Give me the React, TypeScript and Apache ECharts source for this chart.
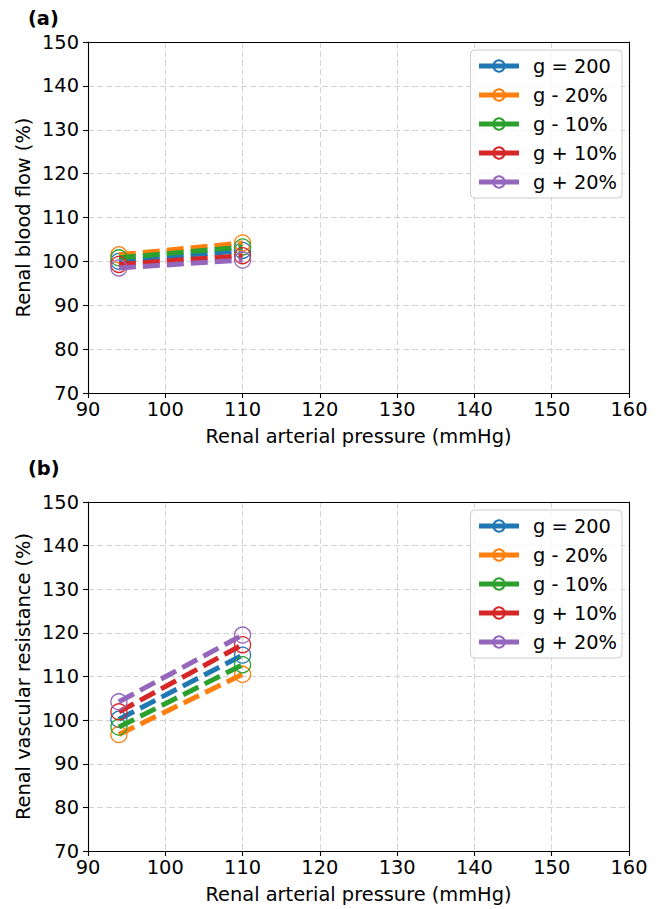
import React, { useEffect, useRef } from "react";
import * as echarts from "echarts";

const pressure = [94, 110];
const seriesNames = ["g = 200", "g - 20%", "g - 10%", "g + 10%", "g + 20%"];
const colors = ["#1f77b4", "#ff7f0e", "#2ca02c", "#d62728", "#9467bd"];

// Renal blood flow (%)
const rbfG200 = [100.0, 102.5];
const rbfM20 = [101.5, 104.2];
const rbfM10 = [100.8, 103.3];
const rbfP10 = [99.3, 101.3];
const rbfP20 = [98.5, 100.3];

// Renal vascular resistance (%)
const rvrG200 = [100.2, 114.9];
const rvrM20 = [96.7, 110.5];
const rvrM10 = [98.4, 112.7];
const rvrP10 = [101.9, 117.3];
const rvrP20 = [104.2, 119.5];

const xTicks = [90, 100, 110, 120, 130, 140, 150, 160];
const yTicks = [70, 80, 90, 100, 110, 120, 130, 140, 150];

const FONT = "DejaVu Sans";
const FS = 19.4;

export default function App() {
  const ref = useRef<HTMLDivElement>(null);
  useEffect(() => {
    document.body.style.margin = "0";
    const chart = echarts.init(ref.current!, null, { renderer: "svg" });
    const rbf = [rbfG200, rbfM20, rbfM10, rbfP10, rbfP20];
    const rvr = [rvrG200, rvrM20, rvrM10, rvrP10, rvrP20];

    const mkSeries = (sets: number[][], idx: number) =>
      sets.map((vals, i) => ({
        type: "line",
        name: seriesNames[i],
        xAxisIndex: idx * 2,
        yAxisIndex: idx * 2,
        data: pressure.map((p, k) => [p, vals[k]]),
        symbol: "circle",
        symbolSize: 16,
        showSymbol: true,
        itemStyle: { color: "rgba(0,0,0,0)", borderColor: colors[i], borderWidth: 1.3 },
        lineStyle: { color: colors[i], width: 5, type: [17, 7] },
        emphasis: { disabled: true },
        z: 2 + i,
      }));

    const splitLine = { show: true, lineStyle: { color: "#d3d3d3", width: 1, type: [6, 3] } };
    const axisLine = { show: true, lineStyle: { color: "#000", width: 1.1 } };
    const axisTick = { show: true, inside: false, length: 5, lineStyle: { color: "#000", width: 1.1 } };

    const xAxisDef = (gi: number) => ({
      type: "value",
      gridIndex: gi,
      min: xTicks[0],
      max: xTicks[xTicks.length - 1],
      interval: 10,
      name: "Renal arterial pressure (mmHg)",
      nameLocation: "middle",
      nameGap: 34,
      nameMoveOverlap: false,
      nameTextStyle: { fontFamily: FONT, fontSize: FS, color: "#000" },
      axisLine,
      axisTick,
      axisLabel: { fontFamily: FONT, fontSize: FS, color: "#000", margin: 7 },
      splitLine,
      z: 1,
    });
    const xTopDef = (gi: number) => ({
      type: "value",
      gridIndex: gi,
      position: "top",
      min: xTicks[0],
      max: xTicks[xTicks.length - 1],
      interval: 10,
      axisLine,
      axisTick: { show: false },
      axisLabel: { show: false },
      splitLine: { show: false },
      z: 10,
    });

    const yAxisDef = (gi: number, name: string) => ({
      type: "value",
      gridIndex: gi,
      min: yTicks[0],
      max: yTicks[yTicks.length - 1],
      interval: 10,
      name,
      nameLocation: "middle",
      nameGap: 55,
      nameMoveOverlap: false,
      nameTextStyle: { fontFamily: FONT, fontSize: FS, color: "#000" },
      axisLine,
      axisTick,
      axisLabel: { fontFamily: FONT, fontSize: FS, color: "#000", margin: 9 },
      splitLine,
      z: 1,
    });
    const yRightDef = (gi: number) => ({
      type: "value",
      gridIndex: gi,
      position: "right",
      min: yTicks[0],
      max: yTicks[yTicks.length - 1],
      interval: 10,
      axisLine,
      axisTick: { show: false },
      axisLabel: { show: false },
      splitLine: { show: false },
      z: 10,
    });

    const legendDef = (top: number) => ({
      data: seriesNames,
      right: 43,
      top,
      orient: "vertical",
      itemWidth: 40,
      itemHeight: 14,
      itemGap: 9,
      padding: [6, 5, 6, 6],
      borderColor: "#cccccc",
      borderWidth: 1,
      borderRadius: 4,
      backgroundColor: "rgba(255,255,255,0.8)",
      selectedMode: false,
      lineStyle: { width: 5, type: "solid" },
      textStyle: { fontFamily: FONT, fontSize: FS, lineHeight: 20, color: "#000", padding: [0, 0, 0, 9] },
    });

    chart.setOption({
      animation: false,
      backgroundColor: "#fff",
      title: [
        { text: "(a)", left: 23, top: 4, textStyle: { fontFamily: FONT, fontSize: FS, fontWeight: "bold", color: "#000" } },
        { text: "(b)", left: 23, top: 454, textStyle: { fontFamily: FONT, fontSize: FS, fontWeight: "bold", color: "#000" } },
      ],
      grid: [
        { left: 88, top: 42, width: 541, height: 351 },
        { left: 88, top: 502, width: 541, height: 349 },
      ],
      xAxis: [xAxisDef(0), xTopDef(0), xAxisDef(1), xTopDef(1)],
      yAxis: [
        yAxisDef(0, "Renal blood flow (%)"),
        yRightDef(0),
        yAxisDef(1, "Renal vascular resistance (%)"),
        yRightDef(1),
      ],
      legend: [legendDef(50), legendDef(510)],
      series: [...mkSeries(rbf, 0), ...mkSeries(rvr, 1)],
    });
    return () => chart.dispose();
  }, []);
  return <div ref={ref} style={{ width: 665, height: 909 }} />;
}
